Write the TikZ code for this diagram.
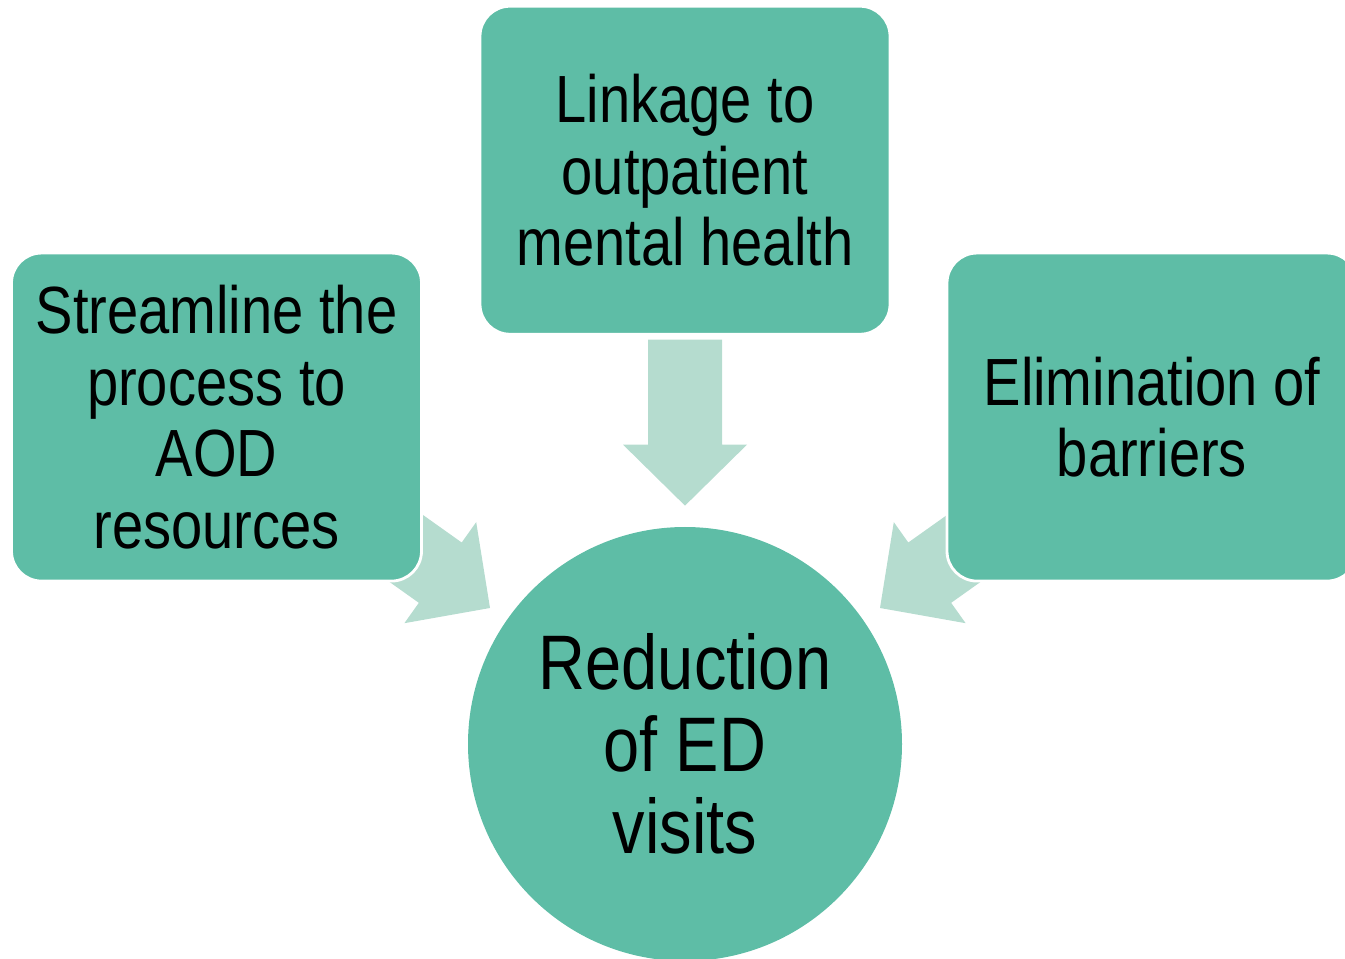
\documentclass[tikz,border=0pt]{standalone}
\usepackage{fontspec}
\setmainfont{Liberation Sans}[FakeStretch=0.84]
\usetikzlibrary{positioning}
\usetikzlibrary{calc}
\definecolor{teal1}{HTML}{5EBDA6}
\definecolor{teal2}{HTML}{B5DCCF}
\tikzstyle{box} = [rectangle, rounded corners=0.6cm, fill=teal1, draw=white,
line width=1.6pt, minimum width=8.2cm, minimum height=6.56cm, align=center,
inner sep=0pt, font=\fontsize{38}{40.8}\selectfont]
\tikzstyle{goal} = [circle, fill=teal1, draw=none, minimum size=8.68cm,
align=center, inner sep=0pt, font=\fontsize{44}{46.5}\selectfont]
\tikzstyle{flow} = [fill=teal2, draw=none]
\newcommand{\blockarrow}[2]{ %
  % Block arrow with its tip at #2, turned by #1 degrees.
  \fill[flow, shift={(#2)}, rotate=#1] (0,0) -- (-1.22,1.24) -- (-1.22,0.74)
    -- (-3.32,0.74) -- (-3.32,-0.74) -- (-1.22,-0.74) -- (-1.22,-1.24) -- cycle ;%
}

\begin{document}
\begin{tikzpicture}
				\useasboundingbox (0,0) rectangle (26.9,-19.18) ;
				\node[goal] (red) at (13.7,-14.88) {Reduction\\of ED\\visits} ; %
				\node[box, above=3.82cm of red] (link) {Linkage to\\outpatient\\mental health} ; %

				\coordinate (tipT) at ($(red.north)+(0,0.42)$) ;
				\coordinate (tipL) at ($(red.center)+(-3.9,2.72)$) ;
				\coordinate (tipR) at ($(red.center)+(3.9,2.72)$) ;
				\blockarrow{-90}{tipT}
				\blockarrow{-35.4}{tipL}
				\blockarrow{-144.6}{tipR}

				\node[box, below=-1.68cm of link, xshift=-9.37cm] (aod) {Streamline the\\process to\\AOD\\resources} ; %
				\node[box, below=-1.68cm of link, xshift=9.34cm] (bar) {Elimination of\\barriers} ; %
\end{tikzpicture}
\end{document}
